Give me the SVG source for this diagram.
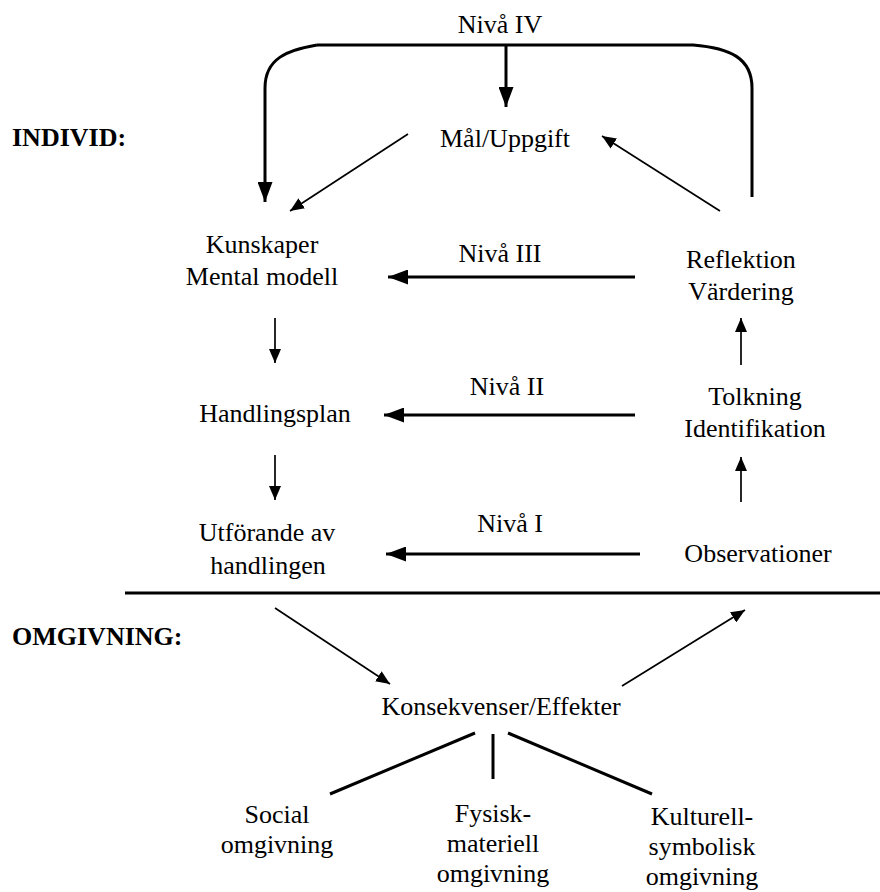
<svg xmlns="http://www.w3.org/2000/svg" width="880" height="892" viewBox="0 0 880 892">
<style>
text{font-family:"Liberation Serif","Times New Roman",serif;font-size:26px;fill:#000;text-anchor:middle}
.b{font-weight:bold;text-anchor:start}
.thick{stroke:#000;stroke-width:3;fill:none}
.thin{stroke:#000;stroke-width:1.7;fill:none}
</style>
<defs>
<marker id="ah" markerUnits="userSpaceOnUse" viewBox="0 0 20 15" refX="20" refY="7.5" markerWidth="20" markerHeight="15" orient="auto"><path d="M0,0L20,7.5L0,15z" fill="#000"/></marker>
<marker id="as" markerUnits="userSpaceOnUse" viewBox="0 0 14 12" refX="14" refY="6" markerWidth="14" markerHeight="12" orient="auto"><path d="M0,0L14,6L0,12z" fill="#000"/></marker>
</defs>
<rect width="880" height="892" fill="#fff"/>
<text class="b" x="12" y="146">INDIVID:</text>
<text class="b" x="12" y="645">OMGIVNING:</text>
<g id="connectors">
<path class="thick" d="M317,45 C288,50 265,58 265,88 L265,202" marker-end="url(#ah)"/>
<path class="thick" d="M317,45 L693,45 C730,48 752,58 752,88 L752,197"/>
<line class="thick" x1="506" y1="45" x2="506" y2="107" marker-end="url(#ah)"/>
<line class="thin" x1="408" y1="134" x2="290" y2="211" marker-end="url(#as)"/>
<line class="thin" x1="720" y1="211" x2="602" y2="136" marker-end="url(#as)"/>
<line class="thick" x1="635" y1="277" x2="388" y2="277" marker-end="url(#ah)"/>
<line class="thick" x1="635" y1="415" x2="384" y2="415" marker-end="url(#ah)"/>
<line class="thick" x1="640" y1="554" x2="386" y2="554" marker-end="url(#ah)"/>
<line class="thin" x1="275" y1="318" x2="275" y2="363" marker-end="url(#as)"/>
<line class="thin" x1="275" y1="455" x2="275" y2="500" marker-end="url(#as)"/>
<line class="thin" x1="741" y1="365" x2="741" y2="318" marker-end="url(#as)"/>
<line class="thin" x1="741" y1="502" x2="741" y2="457" marker-end="url(#as)"/>
<line class="thick" x1="125" y1="593" x2="880" y2="593"/>
<line class="thin" x1="275" y1="608" x2="390" y2="684" marker-end="url(#as)"/>
<line class="thin" x1="622" y1="686" x2="745" y2="610" marker-end="url(#as)"/>
<line class="thick" x1="475" y1="733" x2="330" y2="794"/>
<line class="thick" x1="493" y1="734" x2="493" y2="779"/>
<line class="thick" x1="508" y1="733" x2="652" y2="794"/>
</g>
<g id="niva4"><text x="500" y="33">Nivå IV</text></g>
<g id="mal"><text x="505" y="147">Mål/Uppgift</text></g>
<g id="kunskaper"><text x="262" y="253">Kunskaper</text><text x="262" y="285">Mental modell</text></g>
<g id="niva3"><text x="500" y="262">Nivå III</text></g>
<g id="reflektion"><text x="741" y="268">Reflektion</text><text x="741" y="300">Värdering</text></g>
<g id="niva2"><text x="507" y="395">Nivå II</text></g>
<g id="handlingsplan"><text x="275" y="422">Handlingsplan</text></g>
<g id="tolkning"><text x="755" y="405">Tolkning</text><text x="755" y="437">Identifikation</text></g>
<g id="niva1"><text x="510" y="532">Nivå I</text></g>
<g id="utforande"><text x="267" y="541">Utförande av</text><text x="268" y="574">handlingen</text></g>
<g id="observationer"><text x="758" y="562">Observationer</text></g>
<g id="konsekvenser"><text x="501" y="715">Konsekvenser/Effekter</text></g>
<g id="social"><text x="277" y="823">Social</text><text x="277" y="853">omgivning</text></g>
<g id="fysisk"><text x="493" y="822">Fysisk-</text><text x="493" y="852">materiell</text><text x="493" y="882">omgivning</text></g>
<g id="kulturell"><text x="702" y="825">Kulturell-</text><text x="702" y="855">symbolisk</text><text x="702" y="885">omgivning</text></g>
</svg>
